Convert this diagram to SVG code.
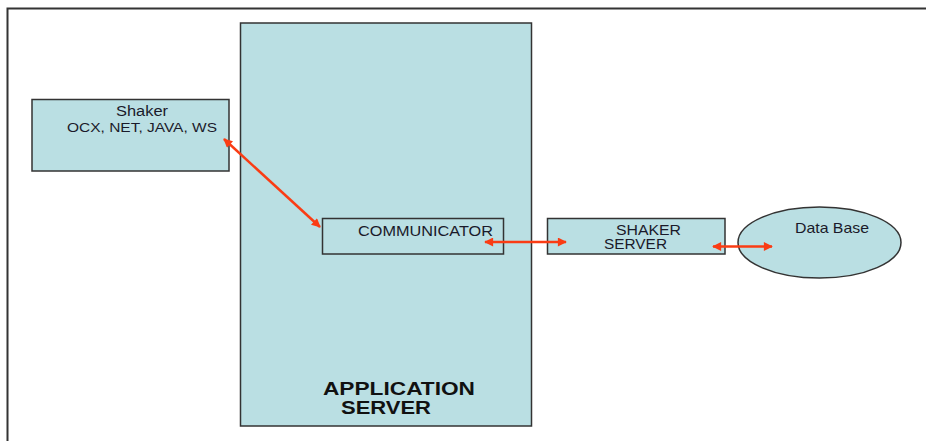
<svg xmlns="http://www.w3.org/2000/svg" width="926" height="441" viewBox="0 0 926 441">
<defs>
<style>
.box{fill:#badfe3;stroke:#333;stroke-width:1.5}
.t{font-family:"Liberation Sans",Arial,sans-serif;fill:#1a1a2a}
.b{font-weight:bold;fill:#111}
.c{stroke:#fa3c14;stroke-width:2.5;fill:none;marker-start:url(#ah);marker-end:url(#ah)}
</style>
<marker id="ah" viewBox="0 0 10 10" refX="9" refY="5" markerWidth="4.2" markerHeight="3.6" orient="auto-start-reverse" markerUnits="strokeWidth">
<path d="M0,0 L10,5 L0,10 Z" fill="#fa3c14"/>
</marker>
</defs>
<rect width="926" height="441" fill="#fff"/>
<rect x="7.5" y="8.5" width="930" height="450" fill="none" stroke="#333" stroke-width="2"/>
<g id="app-server">
<rect class="box" x="240.5" y="23" width="291" height="403"/>
<text class="t b" x="323" y="395" font-size="18" textLength="152" lengthAdjust="spacingAndGlyphs">APPLICATION</text>
<text class="t b" x="341" y="414" font-size="18" textLength="90" lengthAdjust="spacingAndGlyphs">SERVER</text>
</g>
<g id="shaker">
<rect class="box" x="32" y="99.5" width="197" height="71.5"/>
<text class="t" x="116" y="116" font-size="14" textLength="52" lengthAdjust="spacingAndGlyphs">Shaker</text>
<text class="t" x="67" y="132" font-size="12" textLength="150" lengthAdjust="spacingAndGlyphs">OCX, NET, JAVA,  WS</text>
</g>
<g id="communicator">
<rect class="box" x="322.5" y="218.5" width="181" height="35.5"/>
<text class="t" x="358" y="236" font-size="14.5" textLength="135" lengthAdjust="spacingAndGlyphs">COMMUNICATOR</text>
</g>
<g id="shaker-server">
<rect class="box" x="547.5" y="218.5" width="177.5" height="35.5"/>
<text class="t" x="616" y="235" font-size="14" textLength="65" lengthAdjust="spacingAndGlyphs">SHAKER</text>
<text class="t" x="604" y="249" font-size="14" textLength="63" lengthAdjust="spacingAndGlyphs">SERVER</text>
</g>
<g id="database">
<ellipse class="box" cx="819.5" cy="242.5" rx="81.5" ry="35.5"/>
<text class="t" x="795" y="233" font-size="14.5" textLength="74" lengthAdjust="spacingAndGlyphs">Data Base</text>
</g>
<g id="connectors">
<line class="c" x1="224" y1="139" x2="320" y2="227"/>
<line class="c" x1="485" y1="242" x2="566" y2="242"/>
<line class="c" x1="713" y1="246.5" x2="772" y2="246.5"/>
</g>
</svg>
